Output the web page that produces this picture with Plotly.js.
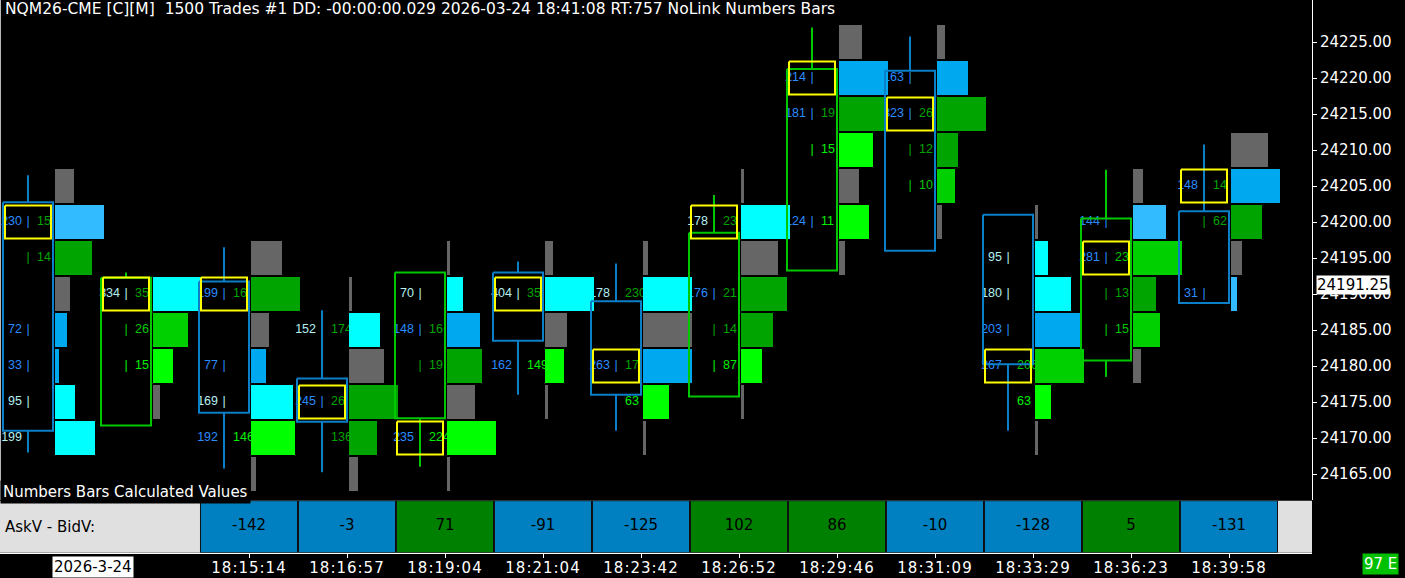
<!DOCTYPE html>
<html>
<head>
<meta charset="utf-8">
<script src="https://cdn.plot.ly/plotly-3.0.1.min.js"></script>
<style>
html,body{margin:0;padding:0;background:#000;overflow:hidden;}
#chart{width:1405px;height:578px;}
.xaxislayer-above .xtick text{letter-spacing:1px;}
</style>
</head>
<body>
<div id="chart"></div>
<script>
// ---------------- DATA ----------------
const barTimes = ['', '', '18:15:14', '18:16:57', '18:19:04', '18:21:04', '18:23:42', '18:26:52', '18:29:46', '18:31:09', '18:33:29', '18:36:23', '18:39:58'];
const opens  = [24202.75, 24171.75, 24191.75, 24178.25, 24172.75, 24193.00, 24189.00, 24175.75, 24193.25, 24221.00, 24201.00, 24180.75, 24201.50];
const highs  = [24206.50, 24193.00, 24196.50, 24187.75, 24193.00, 24194.50, 24194.25, 24203.75, 24227.00, 24225.75, 24201.00, 24207.25, 24210.75];
const lows   = [24168.00, 24171.75, 24165.75, 24165.25, 24166.00, 24176.00, 24171.00, 24175.75, 24193.25, 24196.00, 24171.00, 24178.50, 24188.75];
const closes = [24171.00, 24192.25, 24173.50, 24172.25, 24193.00, 24183.50, 24176.00, 24198.50, 24221.25, 24196.00, 24180.25, 24200.50, 24188.75];
const pocPrice = [24200, 24190, 24190, 24175, 24170, 24190, 24180, 24200, 24220, 24215, 24180, 24195, 24205];
const askBidDelta = [null, null, -142, -3, 71, -91, -125, 102, 86, -10, -128, 5, -131];

// price rows of the numbers bars (one entry per bar / price level)
const rowBar = [
  0,0,0,0,0,0,0,0,
  1,1,1,1,
  2,2,2,2,2,2,2,
  3,3,3,3,3,3,
  4,4,4,4,4,4,4,
  5,5,5,5,5,
  6,6,6,6,6,6,
  7,7,7,7,7,7,7,
  8,8,8,8,8,8,8,
  9,9,9,9,9,9,
  10,10,10,10,10,10,10,
  11,11,11,11,11,11,
  12,12,12,12,12];
const rowPrice = [
  24205,24200,24195,24190,24185,24180,24175,24170,
  24190,24185,24180,24175,
  24195,24190,24185,24180,24175,24170,24165,
  24190,24185,24180,24175,24170,24165,
  24195,24190,24185,24180,24175,24170,24165,
  24195,24190,24185,24180,24175,
  24195,24190,24185,24180,24175,24170,
  24205,24200,24195,24190,24185,24180,24175,
  24225,24220,24215,24210,24205,24200,24195,
  24225,24220,24215,24210,24205,24200,
  24200,24195,24190,24185,24180,24175,24170,
  24205,24200,24195,24190,24185,24180,
  24210,24205,24200,24195,24190];
const rowBidVol = [
  null,230,null,null,72,33,95,199,
  334,null,null,null,
  null,199,null,77,169,192,null,
  null,152,null,245,null,null,
  null,70,148,null,null,235,null,
  null,404,null,162,null,
  null,178,null,263,null,null,
  null,178,null,176,null,null,null,
  null,214,181,null,null,124,null,
  null,163,323,null,null,null,
  null,95,180,203,267,null,null,
  null,144,281,null,null,null,
  null,148,null,null,31];
const rowAskVol = [
  null,15,14,null,null,null,null,null,
  35,26,15,null,
  null,16,null,null,null,146,null,
  null,174,null,26,136,null,
  null,null,16,19,null,224,null,
  null,35,null,149,null,
  null,230,null,17,63,null,
  null,23,null,21,14,87,null,
  null,null,19,15,null,11,null,
  null,null,26,12,10,null,
  null,null,null,null,206,63,null,
  null,null,23,13,15,null,
  null,14,62,null,null];
const rowTotalVol = [
  95,245,185,75,60,20,100,200,
  240,175,100,35,
  155,245,90,75,210,220,25,
  15,155,175,245,140,45,
  15,80,165,175,140,245,15,
  40,245,110,95,15,
  25,245,245,245,130,15,
  15,245,185,230,160,105,15,
  115,245,245,170,100,150,30,
  40,155,245,105,90,25,
  15,65,180,225,245,80,15,
  50,165,245,115,135,40,
  185,245,155,55,30];
// row imbalance class: G neutral, C bid strong, B bid, L bid light, D ask, M ask medium, E ask strong
const rowClass = [
  'G','L','D','G','B','B','C','C',
  'C','M','E','G',
  'G','D','G','B','C','E','G',
  'G','C','G','D','D','G',
  'G','C','B','D','G','E','G',
  'G','C','G','E','G',
  'G','C','G','B','E','G',
  'G','C','G','D','D','E','G',
  'G','B','D','E','G','E','G',
  'G','B','D','D','M','G',
  'G','C','C','B','M','E','G',
  'G','L','M','D','M','G',
  'G','B','D','G','L'];
const priceTicks = [24165,24170,24175,24180,24185,24190,24195,24200,24205,24210,24215,24220,24225];
const lastPrice = 24191.25;

// ---------------- STYLE / GEOMETRY ----------------
const SLOT = 98;                    // px per bar slot
const PXV = 0.2;                    // px per contract in profile
const u = px => px / SLOT;          // px -> x units
const ROW_H = 34 / 7.2;             // profile row height (price units)
const X_RANGE = [-53 / SLOT, (1312 - 53) / SLOT];
const Y_RANGE = [24225 - 458 / 7.2, 24225 + 42 / 7.2];
const NUM_FONT = 'Liberation Sans, Arial, sans-serif';
const NUM_SIZE = 12.5;
const UI_FONT = 'DejaVu Sans, Verdana, sans-serif';
const profileColor = {G:'#666666', C:'#00ffff', B:'#00a8f0', L:'#33bbff', D:'#00a400', M:'#00d000', E:'#00ff00'};
const bidColor = c => c === 'C' ? '#b4f0f0' : '#2a8cff';
const askColor = c => c === 'E' ? '#00f000' : (c === 'M' ? '#00c800' : '#00a400');
const DOWN = '#0b7fc7', UP = '#00c800';

// ---------------- TRACES ----------------
const traces = [];
// number texts (base subplot, drawn under the profile)
const bx=[],by=[],bt=[],bc=[], sx=[],sy=[],sc=[], ax=[],ay=[],at=[],ac=[];
for (let i = 0; i < rowBar.length; i++) {
  const k = rowBar[i], p = rowPrice[i], cls = rowClass[i];
  const bid = rowBidVol[i], ask = rowAskVol[i];
  if (bid !== null) { bx.push(k - u(31)); by.push(p); bt.push(String(bid)); bc.push(bidColor(cls)); }
  if (ask !== null) { ax.push(k - u(16)); ay.push(p); at.push(String(ask)); ac.push(askColor(cls)); }
  const top = Math.max(opens[k], closes[k]), bot = Math.min(opens[k], closes[k]);
  if ((bid !== null || ask !== null) && p >= bot && p <= top) {
    sx.push(k - u(25)); sy.push(p); sc.push(bid !== null ? bidColor(cls) : askColor(cls));
  }
}
traces.push({type:'scatter', mode:'text', x:bx, y:by, text:bt, textposition:'middle left',
  textfont:{family:NUM_FONT, size:NUM_SIZE, color:bc}, hoverinfo:'skip', xaxis:'x', yaxis:'y'});
traces.push({type:'scatter', mode:'text', x:sx, y:sy, text:sx.map(()=>'|'), textposition:'middle center',
  textfont:{family:NUM_FONT, size:NUM_SIZE, color:sc}, hoverinfo:'skip', xaxis:'x', yaxis:'y'});
traces.push({type:'scatter', mode:'text', x:ax, y:ay, text:at, textposition:'middle right',
  textfont:{family:NUM_FONT, size:NUM_SIZE, color:ac}, hoverinfo:'skip', xaxis:'x', yaxis:'y'});

// volume profile (overlay subplot, drawn above the numbers)
traces.push({type:'bar', orientation:'h', xaxis:'x2', yaxis:'y3',
  y: rowPrice, x: rowTotalVol.map(v => u(v * PXV)), base: rowBar.map(k => k + u(2)),
  width: ROW_H, marker:{color: rowClass.map(c => profileColor[c]), line:{width:0}}, hoverinfo:'skip'});

// hollow candles
function candlePath(up) {
  const xs = [], ys = [];
  for (let k = 0; k < opens.length; k++) {
    if ((closes[k] > opens[k]) !== up) continue;
    const top = Math.max(opens[k], closes[k]), bot = Math.min(opens[k], closes[k]);
    const xl = k - u(50), xr = k, xm = k - u(25);
    xs.push(xl, xr, xr, xl, xl, null); ys.push(top, top, bot, bot, top, null);
    if (highs[k] > top) { xs.push(xm, xm, null); ys.push(top, highs[k], null); }
    if (lows[k] < bot) { xs.push(xm, xm, null); ys.push(bot, lows[k], null); }
  }
  return {xs, ys};
}
[false, true].forEach(up => {
  const pth = candlePath(up);
  traces.push({type:'scatter', mode:'lines', x:pth.xs, y:pth.ys, xaxis:'x2', yaxis:'y3',
    line:{color: up ? UP : DOWN, width:2}, hoverinfo:'skip', connectgaps:false});
});

// point of control boxes
const px_=[], py_=[];
pocPrice.forEach((p, k) => {
  const xl = k - u(48), xr = k - u(2), h = 2.3;
  px_.push(xl, xr, xr, xl, xl, null); py_.push(p + h, p + h, p - h, p - h, p + h, null);
});
traces.push({type:'scatter', mode:'lines', x:px_, y:py_, xaxis:'x2', yaxis:'y3',
  line:{color:'#ffff00', width:2}, hoverinfo:'skip'});

// calculated values table
const cellX = [], cellD = [];
askBidDelta.forEach((d, k) => { if (d !== null) { cellX.push(k); cellD.push(d); } });
traces.push({type:'bar', x:cellX, y:cellX.map(()=>1), base:0, width:0.99, xaxis:'x', yaxis:'y2',
  marker:{color: cellD.map(d => d >= 0 ? '#008000' : '#0080c0'), line:{color:'#101010', width:1}}, hoverinfo:'skip'});
traces.push({type:'scatter', mode:'text', x:cellX, y:cellX.map(()=>0.5), text:cellD.map(String),
  textposition:'middle center', textfont:{family:UI_FONT, size:15, color:'#000'}, xaxis:'x', yaxis:'y2', hoverinfo:'skip'});

// ---------------- LAYOUT ----------------
const tickIdx = barTimes.map((t, i) => t ? i : null).filter(v => v !== null);
const H = 578, PLOT_BOTTOM = 500;
const layout = {
  width:1405, height:578, margin:{l:0, r:93, t:0, b:0, pad:0},
  paper_bgcolor:'#000', plot_bgcolor:'#000', showlegend:false, barmode:'overlay', hovermode:false,
  xaxis:{domain:[0,1], range:X_RANGE, anchor:'y2', showgrid:false, zeroline:false,
    tickvals:tickIdx, ticktext:tickIdx.map(i => barTimes[i]), ticks:'outside', ticklen:4, tickcolor:'#fff',
    ticklabelstandoff:-3,
    tickfont:{family:UI_FONT, size:15, color:'#fff'}, showline:true, linecolor:'#fff', linewidth:1},
  yaxis:{domain:[1 - PLOT_BOTTOM / H, 1], range:Y_RANGE, anchor:'x', side:'right', showgrid:false, zeroline:false,
    tickvals:priceTicks, ticktext:priceTicks.map(v => v.toFixed(2)), ticks:'outside', ticklen:4, tickcolor:'#fff',
    tickfont:{family:UI_FONT, size:15, color:'#fff'}, showline:true, linecolor:'#fff', linewidth:1},
  yaxis2:{domain:[(H - 552.7) / H, (H - 500.7) / H], range:[0,1], visible:false, anchor:'x'},
  xaxis2:{overlaying:'x', range:X_RANGE, visible:false, anchor:'y3'},
  yaxis3:{overlaying:'y', range:Y_RANGE, visible:false, anchor:'x2'},
  shapes:[
    {type:'rect', xref:'paper', yref:'y2 domain', x0:0, x1:1, y0:0, y1:1, fillcolor:'#e0e0e0', line:{width:0}, layer:'below'},
    {type:'line', xref:'paper', yref:'paper', x0:0.0004, x1:0.0004, y0:1 - PLOT_BOTTOM / H, y1:1, line:{color:'#bbbbbb', width:1}}
  ],
  annotations:[
    {xref:'paper', yref:'paper', x:3/1312, y:1 - 9.5/H, xanchor:'left', yanchor:'middle', showarrow:false,
     text:'NQM26-CME [C][M]\u00a0\u00a01500 Trades #1 DD: -00:00:00.029 2026-03-24 18:41:08 RT:757 NoLink Numbers Bars',
     font:{family:UI_FONT, size:15.5, color:'#fff'}},
    {xref:'paper', yref:'paper', x:0, y:(H - 491.5)/H, xanchor:'left', yanchor:'middle', showarrow:false,
     text:'Numbers Bars Calculated Values', bgcolor:'#000', borderpad:2, font:{family:UI_FONT, size:15, color:'#fff'}},
    {xref:'paper', yref:'y2 domain', x:3/1312, y:0.5, xanchor:'left', yanchor:'middle', showarrow:false,
     text:'AskV - BidV:', font:{family:UI_FONT, size:15, color:'#000'}},
    {xref:'paper', yref:'y', x:1316/1312, y:lastPrice, xanchor:'left', yanchor:'middle', showarrow:false,
     text:lastPrice.toFixed(2), bgcolor:'#fff', borderpad:0, font:{family:UI_FONT, size:15, color:'#000'}},
    {xref:'paper', yref:'paper', x:52/1312, y:(H - 567)/H, xanchor:'left', yanchor:'middle', showarrow:false,
     text:'2026-3-24', bgcolor:'#fff', borderpad:1, font:{family:UI_FONT, size:15, color:'#000'}},
    {xref:'paper', yref:'paper', x:1362/1312, y:(H - 563.5)/H, xanchor:'left', yanchor:'middle', showarrow:false,
     text:'97 E', bgcolor:'#00c000', borderpad:1, font:{family:UI_FONT, size:15, color:'#fff'}}
  ]
};
Plotly.newPlot('chart', traces, layout, {displayModeBar:false, staticPlot:true});
</script>
</body>
</html>
